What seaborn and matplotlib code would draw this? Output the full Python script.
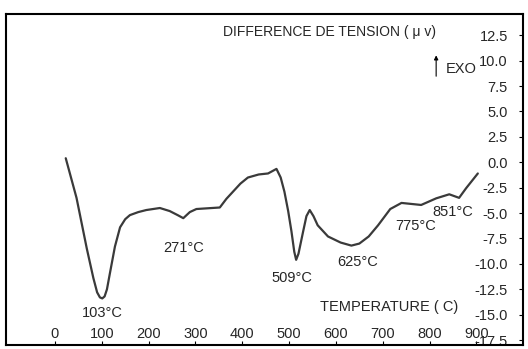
# DTA curve - difference de tension vs temperature
import pandas as pd
import matplotlib
matplotlib.use("Agg")
import matplotlib.pyplot as plt
import seaborn as sns

# curve
temperature = [23, 46, 68, 82, 90, 96, 101, 106, 111, 117, 128, 139, 150, 160,
               178, 195, 224, 245, 262, 274, 288, 302, 352, 366, 380, 396, 412,
               435, 455, 473, 482, 490, 498, 505, 511, 515, 520, 530, 537, 544,
               552, 561, 583, 610, 633, 650, 670, 690, 716, 740, 782, 814, 842,
               863, 878, 903]
tension = [0.4, -3.5, -8.5, -11.4, -12.8, -13.3, -13.4, -13.2, -12.5, -11.0,
           -8.3, -6.4, -5.6, -5.2, -4.9, -4.7, -4.5, -4.8, -5.2, -5.5, -4.9,
           -4.6, -4.45, -3.6, -2.9, -2.1, -1.5, -1.2, -1.1, -0.65, -1.5, -2.9,
           -4.8, -6.8, -8.8, -9.6, -9.0, -6.8, -5.3, -4.7, -5.3, -6.2, -7.3,
           -7.9, -8.2, -8.0, -7.3, -6.2, -4.6, -4.0, -4.2, -3.55, -3.15, -3.5,
           -2.55, -1.1]

# peak labels
peak_labels = ["103°C", "271°C", "509°C", "625°C", "775°C", "851°C"]
peak_x = [102, 275, 505, 646, 770, 849]
peak_y = [-14.8, -8.45, -11.4, -9.8, -6.3, -4.9]

x_ticks = [0, 100, 200, 300, 400, 500, 600, 700, 800, 900]
y_ticks = [12.5, 10.0, 7.5, 5.0, 2.5, 0.0, -2.5, -5.0, -7.5, -10.0, -12.5, -15.0, -17.5]

sns.set_style("white")
plt.rcParams['font.family'] = ['Liberation Sans', 'DejaVu Sans']

df = pd.DataFrame({'T': temperature, 'dV': tension})

fig = plt.figure(figsize=(5.28, 3.49), dpi=100)
ax = fig.add_axes([0.011, 0.011, 0.98, 0.949])

sns.lineplot(data=df, x='T', y='dV', ax=ax, color='#3a3a3a', linewidth=1.6)

ax.set_xlim(-105, 1000)
ax.set_ylim(-18, 14.6)
ax.set_xticks(x_ticks)
ax.set_yticks(y_ticks)
ax.set_xticklabels([str(v) for v in x_ticks])
ax.set_yticklabels([f"{v:.1f}" for v in y_ticks])
ax.set_xlabel('')
ax.set_ylabel('')

ax.tick_params(axis='x', direction='in', length=3, pad=-13, labelsize=10.5,
               bottom=True, color='black')
ax.tick_params(axis='y', direction='in', length=3, pad=-11, labelsize=10.5,
               left=False, right=True, labelleft=False, labelright=True, color='black')
for lab in ax.get_yticklabels():
    lab.set_horizontalalignment('right')

for s in ax.spines.values():
    s.set_color('black')
    s.set_linewidth(1.5)

for lbl, x, y in zip(peak_labels, peak_x, peak_y):
    ax.text(x, y, lbl, ha='center', va='center', fontsize=10.5)

ax.text(814, 12.8, 'DIFFERENCE DE TENSION ( \u03bc v)', ha='right', va='center', fontsize=10)
ax.text(868, 9.2, 'EXO', ha='center', va='center', fontsize=10.5)
ax.annotate('', xy=(814, 10.8), xytext=(814, 8.2),
            arrowprops=dict(arrowstyle='-|>', color='black', lw=0.8, mutation_scale=6))
ax.text(714, -14.2, 'TEMPERATURE ( C)', ha='center', va='center', fontsize=10.5)

fig.savefig('out.png', dpi=100)
